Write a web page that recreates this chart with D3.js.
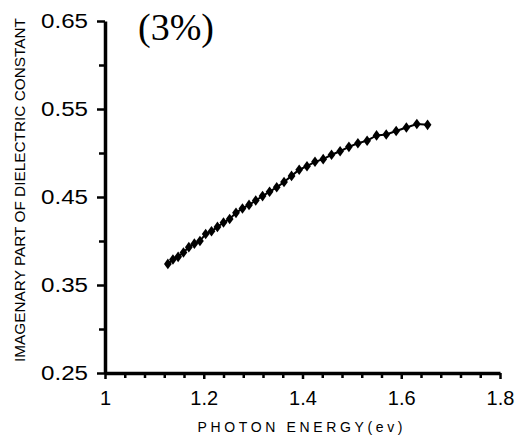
<!DOCTYPE html>
<html>
<head>
<meta charset="utf-8">
<script src="https://cdn.jsdelivr.net/npm/d3@7"></script>
<style>
  html, body { margin: 0; padding: 0; background: #fff; }
  svg { display: block; }
</style>
</head>
<body>
<svg id="chart" width="521" height="436"></svg>
<script>
// Photon energy (eV) of each measurement
const energy = [1.1273, 1.1376, 1.1481, 1.1589, 1.1698, 1.1810, 1.1923, 1.2039, 1.2157,
  1.2277, 1.2400, 1.2525, 1.2653, 1.2784, 1.2917, 1.3053, 1.3191, 1.3333, 1.3478, 1.3626,
  1.3778, 1.3933, 1.4091, 1.4253, 1.4419, 1.4588, 1.4762, 1.4940, 1.5122, 1.5309, 1.5500,
  1.5696, 1.5897, 1.6104, 1.6316, 1.6533];
// Imaginary part of the dielectric constant
const epsImag = [0.374, 0.379, 0.382, 0.387, 0.393, 0.397, 0.400, 0.408, 0.411,
  0.416, 0.421, 0.425, 0.432, 0.437, 0.441, 0.446, 0.451, 0.456, 0.461, 0.467,
  0.474, 0.481, 0.485, 0.490, 0.493, 0.498, 0.502, 0.507, 0.511, 0.514, 0.520,
  0.521, 0.525, 0.529, 0.533, 0.532];

const xMajorTicks = [1, 1.2, 1.4, 1.6, 1.8];
const xTickLabels = ["1", "1.2", "1.4", "1.6", "1.8"];
const yMajorTicks = [0.25, 0.35, 0.45, 0.55, 0.65];
const yTickLabels = ["0.25", "0.35", "0.45", "0.55", "0.65"];
const xMinorTicks = d3.range(1, 1.8001, 0.04).map(v => +v.toFixed(2)).filter(v => !xMajorTicks.includes(v));
const yMinorTicks = [0.30, 0.40, 0.50, 0.60];

const svg = d3.select("#chart");
const plotLeft = 105, plotRight = 500, plotTop = 21, plotBottom = 373;

const x = d3.scaleLinear().domain([1, 1.8]).range([plotLeft, plotRight]);
const y = d3.scaleLinear().domain([0.25, 0.65]).range([plotBottom, plotTop]);

const tickFont = "Liberation Sans, Arial, sans-serif";

// Minor ticks
svg.append("g").attr("transform", `translate(0,${plotBottom})`)
  .call(d3.axisBottom(x).tickValues(xMinorTicks).tickSize(5).tickFormat(""))
  .call(g => g.select(".domain").remove())
  .call(g => g.selectAll("line").attr("stroke", "#000").attr("stroke-width", 2.5));
svg.append("g").attr("transform", `translate(${plotLeft},0)`)
  .call(d3.axisLeft(y).tickValues(yMinorTicks).tickSize(6).tickFormat(""))
  .call(g => g.select(".domain").remove())
  .call(g => g.selectAll("line").attr("stroke", "#000").attr("stroke-width", 2.5));

// Major x axis
svg.append("g").attr("transform", `translate(0,${plotBottom})`)
  .call(d3.axisBottom(x).tickValues(xMajorTicks).tickSize(6).tickSizeOuter(0)
    .tickFormat((d, i) => xTickLabels[i]).tickPadding(12))
  .call(g => g.select(".domain").attr("stroke", "#000").attr("stroke-width", 3.5))
  .call(g => g.selectAll("line").attr("stroke", "#000").attr("stroke-width", 2.5))
  .call(g => g.selectAll("text").attr("font-family", tickFont).attr("font-size", 20).attr("fill", "#000"));

// Major y axis
svg.append("g").attr("transform", `translate(${plotLeft},0)`)
  .call(d3.axisLeft(y).tickValues(yMajorTicks).tickSize(8).tickSizeOuter(0)
    .tickFormat((d, i) => yTickLabels[i]).tickPadding(9))
  .call(g => g.select(".domain").attr("stroke", "#000").attr("stroke-width", 3.5))
  .call(g => g.selectAll("line").attr("stroke", "#000").attr("stroke-width", 2.5))
  .call(g => g.selectAll("text").attr("font-family", tickFont).attr("font-size", 20)
    .attr("textLength", 47).attr("lengthAdjust", "spacingAndGlyphs").attr("fill", "#000"));

// Axis titles
svg.append("text")
  .attr("x", 300).attr("y", 432)
  .attr("text-anchor", "middle")
  .attr("font-family", tickFont).attr("font-size", 14)
  .attr("textLength", 205).attr("lengthAdjust", "spacing")
  .text("PHOTON ENERGY(ev)");

svg.append("text")
  .attr("transform", "translate(25,190) rotate(-90)")
  .attr("text-anchor", "middle")
  .attr("font-family", "Liberation Sans Narrow, Liberation Sans, Arial, sans-serif")
  .attr("font-size", 14)
  .attr("textLength", 344).attr("lengthAdjust", "spacingAndGlyphs")
  .text("IMAGENARY PART OF DIELECTRIC CONSTANT");

// Panel label
svg.append("text")
  .attr("x", 176).attr("y", 40)
  .attr("text-anchor", "middle")
  .attr("font-family", "Liberation Serif, Times New Roman, serif")
  .attr("font-size", 38)
  .text("(3%)");

// Data line and markers
const pts = energy.map((e, i) => [e, epsImag[i]]);
svg.append("path")
  .datum(pts)
  .attr("fill", "none").attr("stroke", "#000").attr("stroke-width", 2)
  .attr("d", d3.line().x(d => x(d[0])).y(d => y(d[1])));

svg.append("g").selectAll("path")
  .data(pts).join("path")
  .attr("transform", d => `translate(${x(d[0])},${y(d[1])}) scale(1.2,0.95)`)
  .attr("d", d3.symbol().type(d3.symbolDiamond).size(36))
  .attr("fill", "#000");
</script>
</body>
</html>
